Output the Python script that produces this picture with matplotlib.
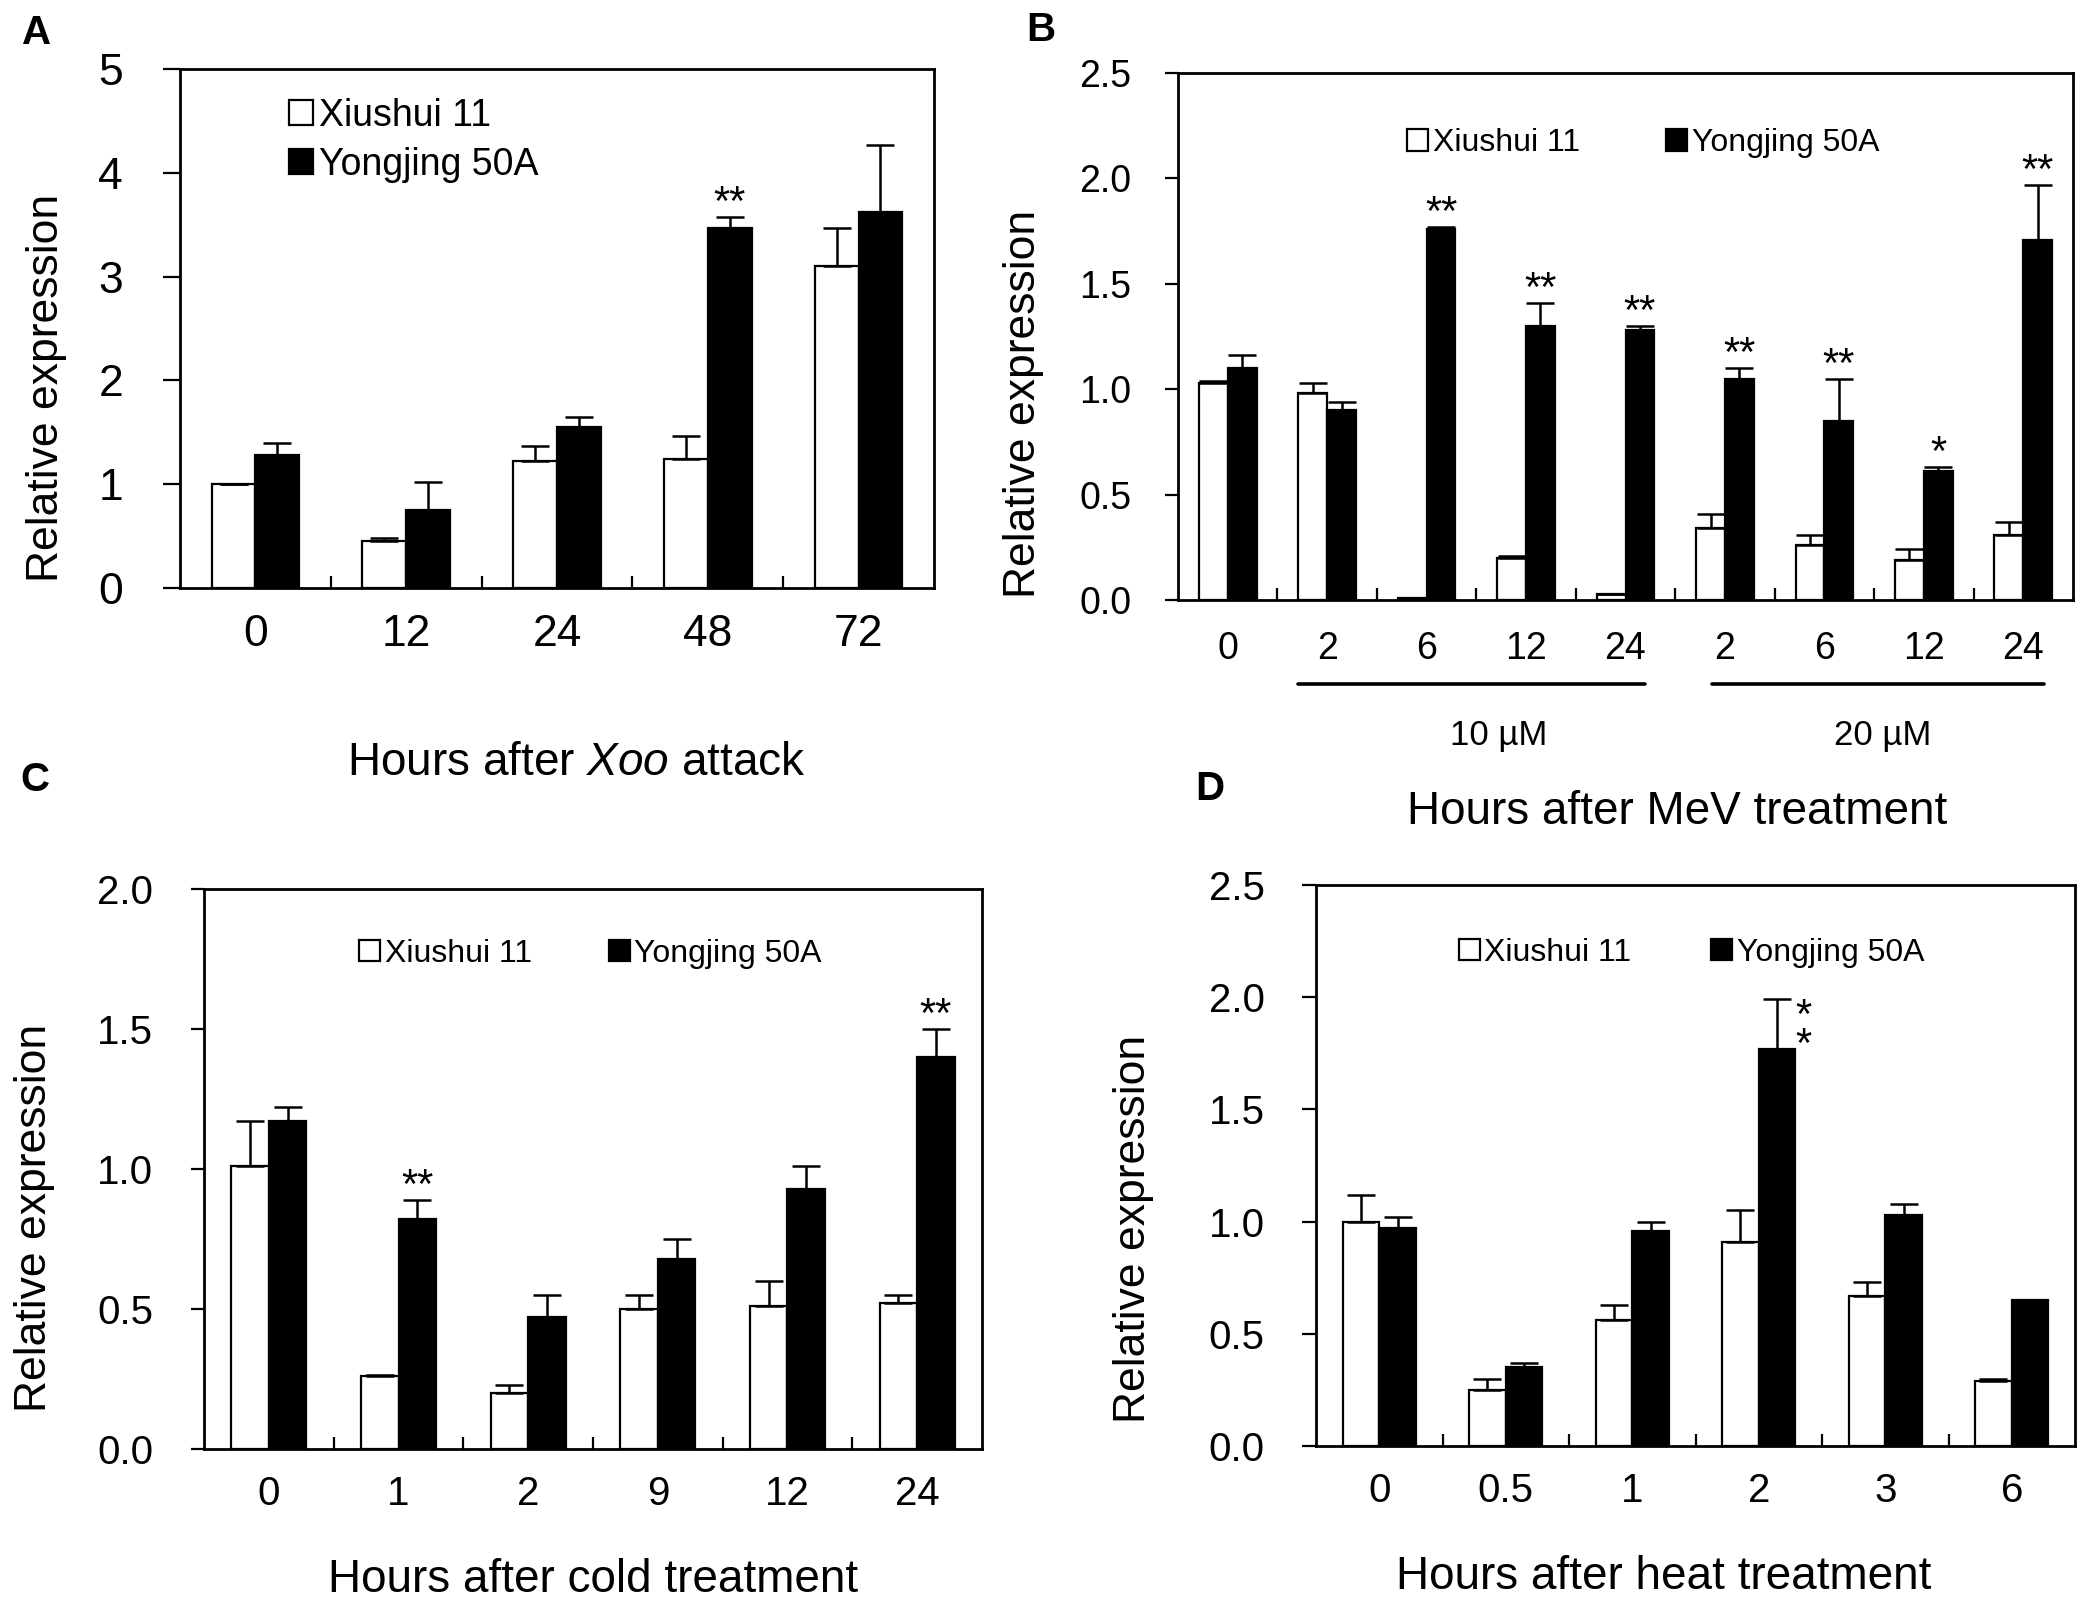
import numpy as np
import matplotlib
matplotlib.use('Agg')
import matplotlib.pyplot as plt
from matplotlib.patches import Patch
from matplotlib.ticker import FixedLocator

plt.rcParams['font.family'] = ['Liberation Sans', 'DejaVu Sans']
plt.rcParams['mathtext.fontset'] = 'custom'
plt.rcParams['mathtext.rm'] = 'Liberation Sans'
plt.rcParams['mathtext.it'] = 'Liberation Sans:italic'

# ---- data ----
# A: Xoo attack
a_labels = ['0', '12', '24', '48', '72']
a_xiu = [1.0, 0.45, 1.22, 1.24, 3.10]
a_xiu_err = [0.0, 0.03, 0.15, 0.22, 0.37]
a_yon = [1.28, 0.75, 1.55, 3.47, 3.62]
a_yon_err = [0.12, 0.27, 0.10, 0.10, 0.65]
a_stars = ['', '', '', '**', '']

# B: MeV treatment
b_labels = ['0', '2', '6', '12', '24', '2', '6', '12', '24']
b_xiu = [1.03, 0.98, 0.01, 0.20, 0.03, 0.34, 0.26, 0.19, 0.31]
b_xiu_err = [0.01, 0.05, 0.0, 0.01, 0.0, 0.07, 0.05, 0.05, 0.06]
b_yon = [1.10, 0.90, 1.76, 1.30, 1.28, 1.05, 0.85, 0.61, 1.71]
b_yon_err = [0.06, 0.04, 0.01, 0.11, 0.02, 0.05, 0.20, 0.02, 0.26]
b_stars = ['', '', '**', '**', '**', '**', '**', '*', '**']
b_groups = ['10 µM', '20 µM']
b_group_span = [(0.71, 4.20), (4.87, 8.21)]
b_group_text_x = [2.72, 6.59]

# C: cold treatment
c_labels = ['0', '1', '2', '9', '12', '24']
c_xiu = [1.01, 0.26, 0.20, 0.50, 0.51, 0.52]
c_xiu_err = [0.16, 0.005, 0.03, 0.05, 0.09, 0.03]
c_yon = [1.17, 0.82, 0.47, 0.68, 0.93, 1.40]
c_yon_err = [0.05, 0.07, 0.08, 0.07, 0.08, 0.10]
c_stars = ['', '**', '', '', '', '**']

# D: heat treatment
d_labels = ['0', '0.5', '1', '2', '3', '6']
d_xiu = [1.00, 0.25, 0.56, 0.91, 0.67, 0.29]
d_xiu_err = [0.12, 0.05, 0.07, 0.14, 0.06, 0.01]
d_yon = [0.97, 0.35, 0.96, 1.77, 1.03, 0.65]
d_yon_err = [0.05, 0.02, 0.04, 0.22, 0.05, 0.0]
d_stars = ['', '', '', '*\n*', '', '']

W, H = 2097, 1614
fig = plt.figure(figsize=(W / 100, H / 100), dpi=100)


def rect(l, r, t, b):
    return [l / W, 1 - b / H, (r - l) / W, (b - t) / H]


BW = 0.29
STAR_FS = 30


def panel(pos, labels, xiu, xiu_err, yon, yon_err, stars, ymax, ystep, fmt,
          tsize, xpad, ypad, ytlen):
    ax = fig.add_axes(pos)
    x = np.arange(len(labels))
    ekw = dict(elinewidth=1.8, capthick=1.8, ecolor='black')
    ax.bar(x - BW / 2, xiu, BW, color='white', edgecolor='black', linewidth=1.6,
           yerr=[np.zeros(len(x)), xiu_err], capsize=10, error_kw=ekw, zorder=2)
    ax.bar(x + BW / 2, yon, BW, color='black', edgecolor='black', linewidth=1.6,
           yerr=[np.zeros(len(x)), yon_err], capsize=10, error_kw=ekw, zorder=2)
    for xi, v, e, s in zip(x, yon, yon_err, stars):
        if not s:
            continue
        if '\n' in s:
            # stacked stars beside the error bar
            ax.annotate(s, xy=(xi + BW / 2, v + e), xytext=(19, -23),
                        textcoords='offset points', ha='center', va='center',
                        fontsize=STAR_FS, linespacing=0.62)
        else:
            ax.annotate(s, xy=(xi + BW / 2, v + e), xytext=(0, 1.5),
                        textcoords='offset points', ha='center', va='baseline',
                        fontsize=STAR_FS)
    ax.set_xlim(-0.5, len(labels) - 0.5)
    ax.set_ylim(0, ymax)
    ax.set_yticks(np.arange(0, ymax + 1e-9, ystep))
    ax.set_yticklabels([fmt % t for t in np.arange(0, ymax + 1e-9, ystep)])
    ax.set_xticks(x)
    ax.set_xticklabels(labels)
    ax.xaxis.set_minor_locator(FixedLocator(x[:-1] + 0.5))
    ax.tick_params(axis='y', direction='out', length=ytlen, width=1.6,
                   pad=ypad, labelsize=tsize)
    ax.tick_params(axis='x', which='major', length=0, pad=xpad, labelsize=tsize)
    ax.tick_params(axis='x', which='minor', direction='in', length=9, width=1.6)
    for sp in ax.spines.values():
        sp.set_linewidth(2.0)
    return ax


def add_legend(ax, fs, center, ncol, colsp, lsp=0.5):
    handles = [Patch(facecolor='white', edgecolor='black', linewidth=1.6),
               Patch(facecolor='black', edgecolor='black', linewidth=1.6)]
    ax.legend(handles, ['Xiushui 11', 'Yongjing 50A'], loc='center',
              bbox_to_anchor=center, ncol=ncol, frameon=False, fontsize=fs,
              handlelength=0.65, handleheight=0.65, handletextpad=0.15,
              columnspacing=colsp, labelspacing=lsp, borderpad=0,
              borderaxespad=0)


# A
axA = panel(rect(180, 934, 69, 588), a_labels, a_xiu, a_xiu_err, a_yon, a_yon_err,
            a_stars, 5, 1, '%d', 32, 19, 29, 12)
add_legend(axA, 27, (0.31, 0.863), 1, 1.0, lsp=0.35)

# B
axB = panel(rect(1178, 2073, 73, 600), b_labels, b_xiu, b_xiu_err, b_yon, b_yon_err,
            b_stars, 2.5, 0.5, '%.1f', 27, 22, 24, 9.5)
add_legend(axB, 23, (0.52, 0.867), 2, 2.7)
trB = axB.get_xaxis_transform()
for name, (x0, x1), tx in zip(b_groups, b_group_span, b_group_text_x):
    axB.plot([x0, x1], [-0.159, -0.159], color='black', lw=2.6,
             transform=trB, clip_on=False, solid_capstyle='round')
    axB.text(tx, -0.258, name, transform=trB, ha='center', va='center',
             fontsize=25)

# C
axC = panel(rect(204, 982, 889, 1449), c_labels, c_xiu, c_xiu_err, c_yon, c_yon_err,
            c_stars, 2.0, 0.5, '%.1f', 29, 19, 27, 9.5)
add_legend(axC, 23, (0.497, 0.884), 2, 2.4)

# D
axD = panel(rect(1316, 2075, 885, 1446), d_labels, d_xiu, d_xiu_err, d_yon, d_yon_err,
            d_stars, 2.5, 0.5, '%.1f', 29, 19, 27, 10)
add_legend(axD, 23, (0.495, 0.879), 2, 2.5)


# axis labels (pixel positions in figure)
def ftext(px, py, s, **kw):
    fig.text(px / W, 1 - py / H, s, ha='center', va='center', **kw)


ftext(47, 388, 'Relative expression', fontsize=32, rotation=90)
ftext(1023, 404, 'Relative expression', fontsize=32, rotation=90)
ftext(35, 1218, 'Relative expression', fontsize=32, rotation=90)
ftext(1133, 1229, 'Relative expression', fontsize=32, rotation=90)

ftext(576, 763, r'Hours after $\it{Xoo}$ attack', fontsize=33)
ftext(1677, 812, 'Hours after MeV treatment', fontsize=33)
ftext(593, 1580, 'Hours after cold treatment', fontsize=33)
ftext(1664, 1577, 'Hours after heat treatment', fontsize=33)

for lab, px, py in [('A', 37, 33), ('B', 1041, 30), ('C', 35, 780), ('D', 1210, 789)]:
    ftext(px, py, lab, fontsize=29, fontweight='bold')

fig.savefig('out.png', dpi=100)
